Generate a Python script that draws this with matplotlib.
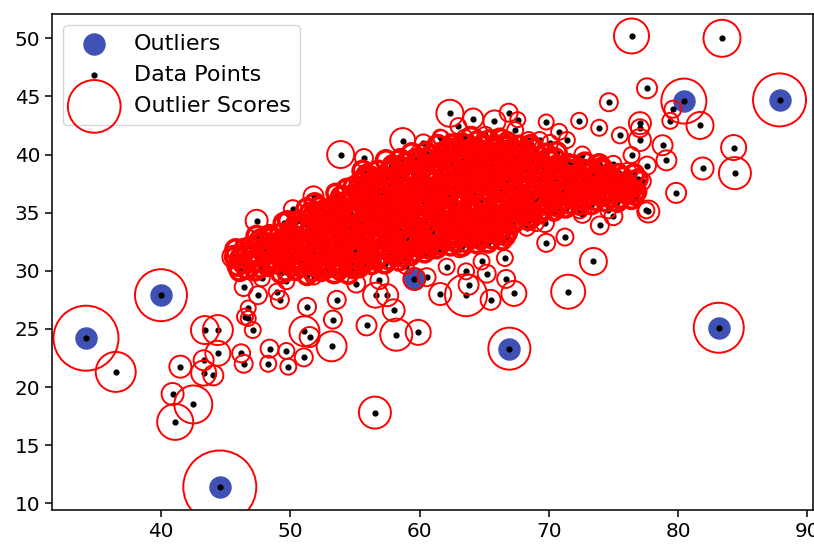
import numpy as np
import matplotlib
matplotlib.use("Agg")
import matplotlib.pyplot as plt

# (x, y, outlier score); score ~ circle diameter / 10 px
outlier_pts = [
    (34.2, 24.2, 6.5), (40.0, 27.9, 5.2), (44.55, 11.4, 7.3), (59.6, 29.3, 2.2),
    (66.95, 23.3, 4.2), (80.45, 44.6, 4.5), (87.85, 44.7, 5.3), (83.15, 25.1, 5.0),
]

fringe_pts = [
    (36.5, 21.3, 4.0), (41.5, 21.75, 2.2), (40.9, 19.4, 2.2), (42.5, 18.5, 3.8),
    (41.1, 17.0, 3.6), (43.4, 24.9, 2.8), (44.4, 24.9, 3.0), (44.4, 22.9, 2.5),
    (43.3, 22.3, 2.0), (43.3, 21.2, 2.5), (44.05, 21.0, 2.0), (46.2, 22.9, 1.8),
    (46.4, 22.0, 1.8), (46.75, 25.9, 1.5), (47.1, 24.9, 1.6), (48.4, 23.3, 1.8),
    (48.3, 22.0, 1.6), (49.7, 23.1, 1.6), (49.85, 21.75, 1.6), (51.05, 22.55, 1.8),
    (51.1, 24.8, 3.0), (51.5, 24.3, 2.0), (49.2, 27.5, 1.8), (46.4, 28.6, 1.8),
    (45.6, 31.2, 2.2), (47.4, 34.3, 2.2), (50.2, 35.3, 1.8), (47.7, 32.8, 1.8),
    (51.3, 26.9, 1.8), (46.75, 26.8, 1.5), (46.5, 26.05, 1.6), (47.5, 27.9, 1.8),
    (48.95, 28.2, 1.6), (53.3, 25.8, 1.8), (53.2, 23.5, 3.0), (53.6, 27.5, 1.8),
    (56.55, 17.8, 3.2), (55.9, 25.3, 2.0), (58.2, 24.5, 3.2), (59.9, 24.7, 2.5),
    (56.6, 27.9, 2.5), (57.5, 27.9, 2.2), (58.0, 26.6, 2.2), (56.9, 29.2, 1.8),
    (55.1, 28.9, 1.8), (51.8, 29.5, 1.6), (53.8, 29.9, 1.6), (49.7, 29.1, 1.6),
    (47.8, 29.35, 1.6), (46.0, 31.2, 1.6), (61.6, 28.0, 2.2), (63.6, 27.9, 4.2),
    (63.8, 28.8, 2.0), (65.5, 27.5, 2.0), (67.3, 28.05, 2.5), (65.2, 29.75, 1.8),
    (66.7, 29.3, 1.8), (63.6, 29.95, 1.6), (62.1, 30.35, 1.6), (60.55, 29.45, 1.8),
    (58.95, 30.4, 1.6), (58.0, 31.55, 1.6), (66.6, 31.1, 1.6), (64.8, 30.8, 1.6),
    (61.5, 31.9, 1.6), (63.1, 31.85, 1.6), (60.3, 31.8, 1.6),
    (73.45, 30.8, 2.7), (71.5, 28.2, 3.4), (75.0, 34.7, 1.8), (73.95, 33.9, 1.8),
    (72.6, 34.9, 1.8), (71.25, 32.9, 1.7), (77.7, 35.1, 2.2), (69.7, 34.1, 1.8),
    (69.8, 32.4, 1.8), (68.3, 33.7, 1.6), (69.0, 34.1, 1.6), (74.6, 35.2, 1.6),
    (77.55, 35.2, 1.6), (72.3, 35.9, 1.6), (72.4, 35.2, 1.6), (69.3, 35.9, 1.6),
    (70.85, 36.5, 1.6), (76.3, 37.2, 1.6), (72.6, 37.5, 1.6), (73.7, 37.2, 1.6),
    (77.2, 37.7, 1.8), (76.2, 37.0, 1.8), (76.1, 38.5, 1.8), (76.4, 39.95, 1.6),
    (75.0, 39.2, 1.6), (77.6, 39.05, 1.8), (74.95, 38.1, 1.6), (72.6, 40.0, 1.6),
    (79.1, 39.5, 2.0), (78.8, 40.8, 2.0), (77.05, 41.25, 2.2), (77.05, 42.7, 2.2),
    (77.05, 42.26, 1.8), (75.5, 41.65, 1.6), (73.9, 42.3, 1.6), (72.35, 42.9, 1.6),
    (69.8, 42.8, 1.5), (79.85, 36.7, 2.0), (81.9, 38.8, 2.2), (84.4, 38.4, 3.2),
    (84.3, 40.6, 2.5), (81.7, 42.5, 2.7), (79.4, 42.9, 1.6), (79.6, 43.9, 1.7),
    (74.65, 44.5, 1.8), (77.6, 45.7, 2.0), (76.4, 50.2, 3.5), (83.4, 50.0, 3.7),
    (53.9, 40.0, 2.7), (55.7, 39.7, 1.8), (56.8, 38.7, 1.7), (58.7, 41.2, 2.5),
    (60.3, 41.0, 1.7), (61.6, 41.5, 1.5), (51.8, 36.4, 2.0), (52.7, 35.1, 1.5),
    (58.5, 39.8, 1.6), (62.35, 43.55, 2.7), (64.15, 43.1, 2.0), (65.8, 42.85, 2.2),
    (66.9, 43.6, 1.8), (67.6, 43.0, 1.5), (63.0, 42.45, 1.6), (61.7, 41.4, 1.6),
    (65.1, 41.7, 1.6), (67.4, 42.1, 1.6), (68.45, 41.25, 1.6), (69.3, 41.25, 1.6),
    (70.1, 41.0, 1.6), (68.15, 40.25, 1.6), (70.8, 41.95, 1.6), (71.4, 41.25, 1.6),
    (63.5, 41.45, 1.6), (62.5, 40.7, 1.6), (67.0, 41.1, 1.6), (53.2, 33.5, 1.6),
    (57.85, 34.4, 1.6), (56.3, 33.2, 1.6),
]

core_pts = [
    (45.9, 30.4, 1.8), (46.6, 30.1, 1.7), (46.2, 31.1, 1.9), (46.8, 30.8, 1.6), (45.8, 31.8, 2.0),
    (46.5, 31.6, 1.7), (46.9, 32.1, 1.8),
    (47.3, 30.0, 1.8), (48.2, 30.3, 1.6), (47.6, 30.8, 1.9), (48.6, 31.0, 1.7), (47.2, 31.5, 1.8),
    (48.1, 31.7, 1.6), (47.8, 32.3, 2.0), (48.7, 32.4, 1.7), (47.4, 33.0, 1.9), (48.4, 33.1, 1.8),
    (49.3, 29.8, 1.9), (50.4, 30.0, 1.7), (49.7, 30.6, 1.6), (50.8, 30.7, 1.8), (49.2, 31.3, 1.7),
    (50.2, 31.4, 1.9), (49.8, 32.1, 1.6), (50.7, 32.2, 1.8), (49.4, 32.8, 1.7), (50.3, 32.9, 2.0),
    (49.9, 33.5, 1.6), (50.8, 33.7, 1.8), (49.5, 34.1, 1.9), (50.5, 34.3, 1.7),
    (51.3, 29.6, 1.8), (52.4, 29.9, 1.7), (51.8, 30.3, 1.6), (52.8, 30.6, 1.9), (51.2, 31.0, 1.7),
    (52.2, 31.2, 1.8), (51.7, 31.8, 1.6), (52.7, 31.9, 1.7), (51.4, 32.5, 1.9), (52.3, 32.7, 1.6),
    (51.9, 33.3, 1.8), (52.9, 33.4, 1.7), (51.2, 34.0, 1.9), (52.4, 34.1, 1.6), (51.7, 34.7, 1.8),
    (52.6, 34.9, 1.7), (51.3, 35.3, 2.0), (52.2, 35.5, 1.8),
    (53.4, 29.8, 1.9), (54.5, 29.7, 1.8), (53.9, 30.4, 1.6), (54.8, 30.6, 1.7), (53.2, 31.1, 1.8),
    (54.2, 31.3, 1.6), (53.7, 31.9, 1.9), (54.7, 32.0, 1.7), (53.3, 32.6, 1.6), (54.3, 32.8, 1.8),
    (53.8, 33.4, 1.7), (54.8, 33.5, 1.6), (53.2, 34.1, 1.9), (54.1, 34.3, 1.7), (53.6, 34.9, 1.6),
    (54.6, 35.0, 1.8), (53.3, 35.6, 1.7), (54.3, 35.8, 1.9), (53.9, 36.4, 1.8), (54.8, 36.6, 1.7),
    (54.4, 37.0, 2.0),
    (55.3, 30.3, 1.9), (56.3, 30.5, 1.7), (55.8, 31.0, 1.6), (56.8, 31.2, 1.8), (55.2, 31.7, 1.7),
    (56.2, 31.9, 1.6), (55.7, 32.5, 1.8), (56.7, 32.6, 1.7), (55.4, 33.2, 1.6), (56.4, 33.4, 1.9),
    (55.9, 33.9, 1.6), (56.9, 34.1, 1.7), (55.2, 34.6, 1.8), (56.2, 34.8, 1.6), (55.7, 35.4, 1.7),
    (56.7, 35.5, 1.6), (55.3, 36.1, 1.8), (56.3, 36.3, 1.7), (55.8, 36.9, 1.6), (56.8, 37.0, 1.8),
    (55.4, 37.6, 1.9), (56.4, 37.8, 1.7), (55.9, 38.3, 1.8), (56.8, 38.6, 1.9),
    (57.3, 30.6, 1.8), (58.4, 30.8, 1.7), (57.8, 31.4, 1.6), (58.8, 31.5, 1.8), (57.2, 32.1, 1.6),
    (58.2, 32.3, 1.7), (57.7, 32.9, 1.6), (58.7, 33.0, 1.8), (57.4, 33.6, 1.7), (58.3, 33.8, 1.6),
    (57.9, 34.4, 1.7), (58.9, 34.5, 1.6), (57.3, 35.1, 1.8), (58.2, 35.3, 1.6), (57.8, 35.9, 1.7),
    (58.8, 36.0, 1.6), (57.2, 36.6, 1.7), (58.3, 36.8, 1.6), (57.7, 37.4, 1.8), (58.6, 37.5, 1.7),
    (57.3, 38.1, 1.6), (58.3, 38.3, 1.8), (57.8, 38.9, 1.7), (58.7, 39.0, 1.6), (57.4, 39.5, 1.9),
    (58.5, 39.6, 1.8),
    (59.3, 31.3, 1.8), (60.4, 31.5, 1.7), (59.8, 32.0, 1.6), (60.8, 32.2, 1.7), (59.2, 32.7, 1.6),
    (60.2, 32.9, 1.7), (59.7, 33.5, 1.6), (60.7, 33.6, 1.8), (59.4, 34.2, 1.6), (60.3, 34.4, 1.7),
    (59.9, 35.0, 1.6), (60.9, 35.1, 1.7), (59.3, 35.7, 1.6), (60.2, 35.9, 1.8), (59.8, 36.5, 1.6),
    (60.8, 36.6, 1.7), (59.2, 37.2, 1.6), (60.3, 37.4, 1.7), (59.7, 38.0, 1.6), (60.6, 38.1, 1.7),
    (59.3, 38.7, 1.8), (60.3, 38.9, 1.6), (59.8, 39.5, 1.7), (60.7, 39.6, 1.8), (59.4, 40.1, 1.9),
    (60.5, 40.3, 1.7),
    (61.3, 31.9, 1.8), (62.4, 32.1, 1.7), (61.8, 32.6, 1.6), (62.8, 32.8, 1.7), (61.2, 33.3, 1.6),
    (62.2, 33.5, 1.7), (61.7, 34.1, 1.6), (62.7, 34.2, 1.7), (61.4, 34.8, 1.6), (62.3, 35.0, 1.8),
    (61.9, 35.6, 1.6), (62.9, 35.7, 1.7), (61.3, 36.3, 1.6), (62.2, 36.5, 1.7), (61.8, 37.1, 1.6),
    (62.8, 37.2, 1.7), (61.2, 37.8, 1.6), (62.3, 38.0, 1.7), (61.7, 38.6, 1.6), (62.6, 38.7, 1.8),
    (61.3, 39.3, 1.6), (62.3, 39.5, 1.7), (61.8, 40.1, 1.8), (62.7, 40.2, 1.7), (61.4, 40.8, 1.9),
    (62.5, 40.9, 1.8),
    (63.3, 32.1, 1.8), (64.4, 32.3, 1.7), (63.8, 32.8, 1.6), (64.8, 33.0, 1.7), (63.2, 33.5, 1.6),
    (64.2, 33.7, 1.7), (63.7, 34.3, 1.6), (64.7, 34.4, 1.8), (63.4, 35.0, 1.6), (64.3, 35.2, 1.7),
    (63.9, 35.8, 1.6), (64.9, 35.9, 1.7), (63.3, 36.5, 1.6), (64.2, 36.7, 1.7), (63.8, 37.3, 1.6),
    (64.8, 37.4, 1.7), (63.2, 38.0, 1.6), (64.3, 38.2, 1.8), (63.7, 38.8, 1.6), (64.6, 38.9, 1.7),
    (63.3, 39.5, 1.6), (64.3, 39.7, 1.7), (63.8, 40.3, 1.6), (64.7, 40.4, 1.8), (63.4, 41.0, 1.7),
    (64.5, 41.2, 1.8), (64.0, 41.5, 1.9),
    (65.3, 32.4, 1.8), (66.4, 32.6, 1.7), (65.8, 33.1, 1.6), (66.8, 33.3, 1.8), (65.2, 33.8, 1.6),
    (66.2, 34.0, 1.7), (65.7, 34.6, 1.6), (66.7, 34.7, 1.7), (65.4, 35.3, 1.6), (66.3, 35.5, 1.8),
    (65.9, 36.1, 1.6), (66.9, 36.2, 1.7), (65.3, 36.8, 1.6), (66.2, 37.0, 1.7), (65.8, 37.6, 1.6),
    (66.8, 37.7, 1.7), (65.2, 38.3, 1.6), (66.3, 38.5, 1.7), (65.7, 39.1, 1.6), (66.6, 39.2, 1.8),
    (65.3, 39.8, 1.6), (66.3, 40.0, 1.7), (65.8, 40.6, 1.6), (66.7, 40.7, 1.8), (65.4, 41.3, 1.7),
    (66.2, 41.4, 1.8),
    (67.3, 34.1, 1.8), (68.4, 34.3, 1.7), (67.8, 34.8, 1.6), (68.8, 35.0, 1.7), (67.2, 35.5, 1.6),
    (68.2, 35.7, 1.7), (67.7, 36.3, 1.6), (68.7, 36.4, 1.8), (67.4, 37.0, 1.6), (68.3, 37.2, 1.7),
    (67.9, 37.8, 1.6), (68.9, 37.9, 1.7), (67.3, 38.5, 1.6), (68.2, 38.7, 1.7), (67.8, 39.3, 1.6),
    (68.8, 39.4, 1.8), (67.2, 40.0, 1.7), (68.3, 40.2, 1.6), (67.7, 40.8, 1.8), (68.6, 40.9, 1.7),
    (69.3, 34.9, 1.8), (70.4, 35.1, 1.7), (69.8, 35.6, 1.6), (70.8, 35.8, 1.7), (69.2, 36.3, 1.6),
    (70.2, 36.5, 1.7), (69.7, 37.1, 1.6), (70.7, 37.2, 1.8), (69.4, 37.8, 1.6), (70.3, 38.0, 1.7),
    (69.9, 38.6, 1.6), (70.8, 38.7, 1.7), (69.3, 39.3, 1.8), (70.2, 39.5, 1.7), (69.8, 40.1, 1.8),
    (70.6, 40.2, 1.9),
    (71.3, 35.4, 1.8), (72.4, 35.6, 1.7), (71.8, 36.1, 1.6), (72.8, 36.3, 1.7), (71.2, 36.8, 1.6),
    (72.2, 37.0, 1.7), (71.7, 37.6, 1.6), (72.7, 37.7, 1.8), (71.4, 38.3, 1.7), (72.3, 38.5, 1.6),
    (71.9, 39.1, 1.8), (72.8, 39.3, 1.9),
    (73.3, 35.7, 1.8), (74.4, 35.9, 1.7), (73.8, 36.4, 1.6), (74.8, 36.6, 1.7), (73.2, 37.1, 1.6),
    (74.2, 37.3, 1.7), (73.7, 37.9, 1.6), (74.7, 38.0, 1.8), (73.4, 38.6, 1.7), (74.3, 38.8, 1.6),
    (73.9, 39.2, 1.8),
    (75.3, 35.9, 1.8), (76.4, 36.1, 1.7), (75.8, 36.6, 1.6), (76.8, 36.8, 1.8), (75.2, 37.3, 1.7),
    (76.2, 37.5, 1.6), (75.7, 38.1, 1.8), (76.6, 38.3, 1.9),
]

# second layer of the dense cluster, sitting between the first
core_pts_b = [
    (46.3, 30.6, 1.7), (45.7, 31.2, 1.8), (46.4, 32.0, 1.6), (46.1, 30.0, 1.9),
    (47.7, 30.2, 1.7), (48.8, 30.6, 1.8), (47.4, 31.2, 1.6), (48.4, 31.4, 1.7), (47.9, 32.0, 1.8),
    (48.9, 32.1, 1.6), (47.6, 32.7, 1.7), (48.5, 32.8, 1.9),
    (49.7, 29.9, 1.7), (50.8, 30.3, 1.6), (49.4, 30.9, 1.8), (50.5, 31.0, 1.7), (49.9, 31.7, 1.6),
    (50.9, 31.9, 1.8), (49.5, 32.4, 1.7), (50.4, 32.6, 1.6), (49.2, 33.2, 1.8), (50.1, 33.2, 1.7),
    (50.3, 33.9, 1.6), (49.8, 34.3, 1.8),
    (51.7, 29.9, 1.7), (52.8, 30.1, 1.6), (51.4, 30.6, 1.8), (52.5, 30.9, 1.7), (51.9, 31.4, 1.6),
    (52.9, 31.6, 1.8), (51.3, 32.2, 1.7), (52.4, 32.3, 1.6), (51.8, 33.0, 1.8), (52.7, 33.1, 1.7),
    (51.5, 33.7, 1.6), (52.5, 33.8, 1.8), (51.9, 34.4, 1.7), (52.9, 34.5, 1.6), (51.5, 35.0, 1.8),
    (52.4, 35.2, 1.7), (51.9, 35.8, 1.9),
    (53.8, 30.1, 1.7), (54.9, 30.1, 1.6), (53.5, 30.8, 1.8), (54.5, 30.9, 1.7), (53.9, 31.6, 1.6),
    (54.9, 31.7, 1.8), (53.5, 32.3, 1.7), (54.5, 32.4, 1.6), (53.9, 33.1, 1.8), (54.6, 33.1, 1.7),
    (53.4, 33.8, 1.6), (54.5, 33.9, 1.8), (53.9, 34.6, 1.7), (54.9, 34.7, 1.6), (53.5, 35.3, 1.8),
    (54.6, 35.4, 1.7), (53.7, 36.0, 1.6), (54.6, 36.2, 1.8), (53.5, 36.7, 1.7), (54.9, 37.2, 1.9),
    (55.7, 30.6, 1.7), (56.7, 30.8, 1.6), (55.4, 31.4, 1.8), (56.5, 31.6, 1.7), (55.9, 32.2, 1.6),
    (56.9, 32.3, 1.8), (55.5, 32.9, 1.7), (56.3, 33.0, 1.6), (55.7, 33.6, 1.8), (56.7, 33.8, 1.7),
    (55.4, 34.3, 1.6), (56.5, 34.5, 1.8), (55.9, 35.1, 1.7), (56.9, 35.2, 1.6), (55.5, 35.8, 1.8),
    (56.5, 35.9, 1.7), (55.6, 36.5, 1.6), (56.6, 36.6, 1.8), (55.3, 37.3, 1.7), (56.6, 37.4, 1.6),
    (55.7, 38.0, 1.8), (56.2, 38.2, 1.7), (55.6, 38.6, 1.9),
    (57.6, 30.9, 1.7), (58.7, 31.1, 1.6), (57.5, 31.8, 1.8), (58.5, 31.9, 1.7), (57.9, 32.5, 1.6),
    (58.9, 32.6, 1.8), (57.5, 33.2, 1.7), (58.5, 33.4, 1.6), (57.7, 34.0, 1.8), (58.6, 34.1, 1.7),
    (57.5, 34.8, 1.6), (58.6, 34.9, 1.8), (57.9, 35.6, 1.7), (58.5, 35.6, 1.6), (57.5, 36.2, 1.8),
    (58.5, 36.4, 1.7), (57.9, 37.0, 1.6), (58.9, 37.1, 1.8), (57.5, 37.7, 1.7), (58.5, 37.9, 1.6),
    (57.6, 38.5, 1.8), (58.5, 38.6, 1.7), (57.9, 39.2, 1.6), (58.9, 39.3, 1.8),
    (59.6, 31.6, 1.7), (60.7, 31.8, 1.6), (59.5, 32.4, 1.8), (60.5, 32.5, 1.7), (59.9, 33.1, 1.6),
    (60.9, 33.3, 1.8), (59.5, 33.8, 1.7), (60.6, 34.0, 1.6), (59.7, 34.6, 1.8), (60.6, 34.7, 1.7),
    (59.5, 35.4, 1.6), (60.6, 35.5, 1.8), (59.9, 36.1, 1.7), (60.5, 36.2, 1.6), (59.5, 36.8, 1.8),
    (60.6, 37.0, 1.7), (59.9, 37.6, 1.6), (60.9, 37.7, 1.8), (59.5, 38.4, 1.7), (60.6, 38.5, 1.6),
    (59.6, 39.1, 1.8), (60.5, 39.2, 1.7), (59.9, 39.8, 1.6), (60.9, 40.0, 1.8),
    (61.6, 32.2, 1.7), (62.7, 32.4, 1.6), (61.5, 33.0, 1.8), (62.5, 33.1, 1.7), (61.9, 33.7, 1.6),
    (62.9, 33.9, 1.8), (61.5, 34.4, 1.7), (62.6, 34.6, 1.6), (61.7, 35.2, 1.8), (62.6, 35.3, 1.7),
    (61.5, 36.0, 1.6), (62.6, 36.1, 1.8), (61.9, 36.7, 1.7), (62.5, 36.8, 1.6), (61.5, 37.4, 1.8),
    (62.6, 37.6, 1.7), (61.9, 38.2, 1.6), (62.9, 38.3, 1.8), (61.5, 39.0, 1.7), (62.6, 39.1, 1.6),
    (61.6, 39.7, 1.8), (62.5, 39.8, 1.7), (61.9, 40.4, 1.6), (62.9, 40.6, 1.8),
    (63.6, 32.4, 1.7), (64.7, 32.6, 1.6), (63.5, 33.2, 1.8), (64.5, 33.3, 1.7), (63.9, 33.9, 1.6),
    (64.9, 34.1, 1.8), (63.5, 34.6, 1.7), (64.6, 34.8, 1.6), (63.7, 35.4, 1.8), (64.6, 35.5, 1.7),
    (63.5, 36.2, 1.6), (64.6, 36.3, 1.8), (63.9, 36.9, 1.7), (64.5, 37.0, 1.6), (63.5, 37.6, 1.8),
    (64.6, 37.8, 1.7), (63.9, 38.4, 1.6), (64.9, 38.5, 1.8), (63.5, 39.2, 1.7), (64.6, 39.3, 1.6),
    (63.6, 39.9, 1.8), (64.5, 40.0, 1.7), (63.9, 40.6, 1.6), (64.9, 40.9, 1.8),
    (65.6, 32.7, 1.7), (66.7, 32.9, 1.6), (65.5, 33.5, 1.8), (66.5, 33.6, 1.7), (65.9, 34.2, 1.6),
    (66.9, 34.4, 1.8), (65.5, 34.9, 1.7), (66.6, 35.1, 1.6), (65.7, 35.7, 1.8), (66.6, 35.8, 1.7),
    (65.5, 36.5, 1.6), (66.6, 36.6, 1.8), (65.9, 37.2, 1.7), (66.5, 37.3, 1.6), (65.5, 37.9, 1.8),
    (66.6, 38.1, 1.7), (65.9, 38.7, 1.6), (66.9, 38.8, 1.8), (65.5, 39.5, 1.7), (66.6, 39.6, 1.6),
    (65.6, 40.2, 1.8), (66.5, 40.3, 1.7), (65.9, 40.9, 1.6), (66.8, 41.1, 1.8),
    (67.6, 34.4, 1.7), (68.7, 34.6, 1.6), (67.5, 35.2, 1.8), (68.5, 35.3, 1.7), (67.9, 35.9, 1.6),
    (68.9, 36.1, 1.8), (67.5, 36.6, 1.7), (68.6, 36.8, 1.6), (67.7, 37.4, 1.8), (68.6, 37.5, 1.7),
    (67.5, 38.2, 1.6), (68.6, 38.3, 1.8), (67.9, 38.9, 1.7), (68.5, 39.0, 1.6), (67.5, 39.6, 1.8),
    (68.6, 39.8, 1.7), (67.9, 40.4, 1.6), (68.9, 40.5, 1.8),
    (69.6, 35.2, 1.7), (70.7, 35.4, 1.6), (69.5, 36.0, 1.8), (70.5, 36.1, 1.7), (69.9, 36.7, 1.6),
    (70.9, 36.9, 1.8), (69.5, 37.4, 1.7), (70.6, 37.6, 1.6), (69.7, 38.2, 1.8), (70.6, 38.3, 1.7),
    (69.5, 39.0, 1.6), (70.6, 39.1, 1.8), (69.9, 39.7, 1.7), (70.5, 39.8, 1.6),
    (71.6, 35.7, 1.7), (72.7, 35.9, 1.6), (71.5, 36.5, 1.8), (72.5, 36.6, 1.7), (71.9, 37.2, 1.6),
    (72.9, 37.4, 1.8), (71.5, 37.9, 1.7), (72.6, 38.1, 1.6), (71.7, 38.7, 1.8), (72.6, 38.8, 1.7),
    (71.5, 39.3, 1.6),
    (73.6, 36.0, 1.7), (74.7, 36.2, 1.6), (73.5, 36.8, 1.8), (74.5, 36.9, 1.7), (73.9, 37.5, 1.6),
    (74.9, 37.7, 1.8), (73.5, 38.2, 1.7), (74.6, 38.4, 1.6), (74.1, 38.9, 1.8),
    (75.6, 36.2, 1.7), (76.7, 36.4, 1.6), (75.5, 37.0, 1.8), (76.5, 37.1, 1.7), (75.9, 37.7, 1.6),
    (76.9, 37.9, 1.8), (75.4, 38.4, 1.7),
]

outliers = np.array(outlier_pts)
sparse = np.array(outlier_pts + fringe_pts)
dense = np.array(core_pts + core_pts_b)
points = np.vstack([sparse, dense])

fig = plt.figure(figsize=(8.14, 5.47), dpi=100)
ax = fig.add_axes([52 / 814, 37 / 547, 761 / 814, 496 / 547])

ax.scatter(outliers[:, 0], outliers[:, 1], s=230, color='#3f51b5', label='Outliers')
ax.scatter(points[:, 0], points[:, 1], s=12, color='k', label='Data Points')
ax.scatter(sparse[:, 0], sparse[:, 1], s=(sparse[:, 2] * 7.2) ** 2,
           facecolors='none', edgecolors='r', linewidths=1.4, label='Outlier Scores')
# the packed middle of the cloud: heavier rings so it reads as a solid mass
ax.scatter(dense[:, 0], dense[:, 1], s=(dense[:, 2] * 7.2) ** 2,
           facecolors='none', edgecolors='r', linewidths=2.6, zorder=1.9)

ax.set_xlim(31.57, 90.44)
ax.set_ylim(9.42, 52.09)
ax.set_xticks([40, 50, 60, 70, 80, 90])
ax.set_yticks([10, 15, 20, 25, 30, 35, 40, 45, 50])
ax.tick_params(labelsize=14.4, length=5, width=1.1)
for sp in ax.spines.values():
    sp.set_linewidth(1.1)
ax.legend(loc='upper left', fontsize=16)

fig.savefig('out.png', dpi=100)
